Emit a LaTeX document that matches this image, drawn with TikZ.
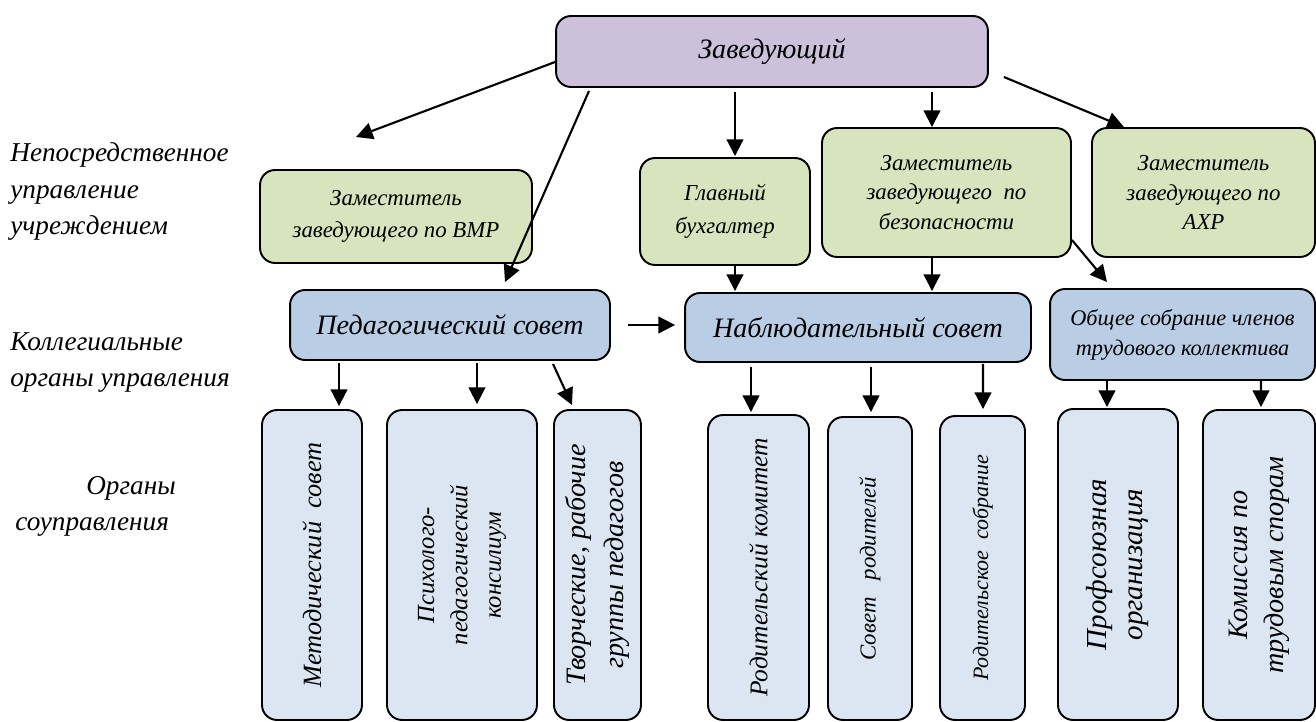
\documentclass[tikz,border=0pt]{standalone}
\usepackage{fontspec}
\setmainfont{Liberation Serif}
\usetikzlibrary{calc, arrows.meta}
\definecolor{chieffill}{HTML}{CCC0DA}
\definecolor{deputyfill}{HTML}{D7E4BD}
\definecolor{councilfill}{HTML}{B9CDE5}
\definecolor{organfill}{HTML}{DCE6F2}
\tikzstyle{box}     = [rectangle, rounded corners=.3cm, draw=black, line width=1.1pt, inner sep=2pt, align=center]
\tikzstyle{chief}   = [box, fill=chieffill, font=\itshape\fontsize{16}{19}\selectfont]
\tikzstyle{deputy}  = [box, fill=deputyfill, font=\itshape\fontsize{13}{18.5}\selectfont]
\tikzstyle{council} = [box, fill=councilfill, font=\itshape\fontsize{16}{19}\selectfont]
\tikzstyle{organ}   = [box, fill=organfill, rotate=90, font=\itshape\fontsize{15}{20}\selectfont]
\tikzstyle{level}   = [anchor=west, align=left, inner sep=0pt, font=\itshape\fontsize{15.5}{20.7}\selectfont]
\tikzstyle{arrow}   = [line width=1.2pt, -{Triangle[length=9.5pt,width=9.5pt]}]

\begin{document}
\begin{tikzpicture}[x=0.02cm, y=-0.02cm]
      \useasboundingbox (0,0) rectangle (1316,722);

      % levels
      \node (lev1) [level] at (10,191.5) {Непосредственное\\управление\\учреждением};
      \node (lev2) [level] at (10,362.5) {Коллегиальные\\органы управления};
      \node (lev3) [level] at (15,506.5) {\hspace*{1.42cm}Органы\\соуправления};

      % head
      \node (zav)  [chief, minimum width=8.64cm, minimum height=1.42cm] at (772,51.5) {Заведующий};

      % deputies
      \node (vmr)  [deputy, minimum width=5.44cm, minimum height=1.86cm] at (396,216.5) {Заместитель\\заведующего по ВМР};
      \node (glav) [deputy, minimum width=3.4cm, minimum height=2.14cm] at (725,211.5) {Главный\\бухгалтер};
      \node (bez)  [deputy, minimum width=4.98cm, minimum height=2.58cm, font=\itshape\fontsize{13}{17}\selectfont] at (946.5,192.5) {Заместитель\\заведующего~ по\\безопасности};
      \node (ahr)  [deputy, minimum width=4.46cm, minimum height=2.58cm, font=\itshape\fontsize{13}{17}\selectfont] at (1203.5,192.5) {Заместитель\\заведующего по\\АХР};

      % councils
      \node (ped)  [council, minimum width=6.4cm, minimum height=1.4cm] at (450,325) {Педагогический совет};
      \node (nab)  [council, minimum width=6.92cm, minimum height=1.38cm] at (858,327.5) {Наблюдательный совет};
      \node (obsh) [council, minimum width=5.3cm, minimum height=1.82cm, font=\itshape\fontsize{12.7}{17}\selectfont] at (1182.5,334.5) {Общее собрание членов\\трудового коллектива};

      % self-government bodies
      \node (met)  [organ, minimum width=6.2cm, minimum height=2cm] at (312,565) {Методический~ совет};
      \node (psi)  [organ, minimum width=6.2cm, minimum height=3cm, font=\itshape\fontsize{14}{19}\selectfont] at (462,565) {Психолого-\\педагогический\\консилиум};
      \node (tvor) [organ, minimum width=6.2cm, minimum height=1.74cm, font=\itshape\fontsize{16}{21.5}\selectfont] at (597.5,565) {Творческие, рабочие\\группы педагогов};
      \node (rkom) [organ, minimum width=6.1cm, minimum height=2.02cm, font=\itshape\fontsize{14.5}{19}\selectfont] at (758.5,567.5) {Родительский комитет};
      \node (srod) [organ, minimum width=6.06cm, minimum height=1.68cm, font=\itshape\fontsize{13}{17}\selectfont] at (870,568.5) {Совет~~ родителей};
      \node (rsob) [organ, minimum width=6.08cm, minimum height=1.7cm, font=\itshape\fontsize{12.5}{17}\selectfont] at (982.5,568) {Родительское~ собрание};
      \node (prof) [organ, minimum width=6.22cm, minimum height=2.4cm, font=\itshape\fontsize{16.5}{20.5}\selectfont] at (1118,564.5) {Профсоюзная\\организация};
      \node (kom)  [organ, minimum width=6.2cm, minimum height=2.24cm, font=\itshape\fontsize{16}{20.5}\selectfont] at (1259,565) {Комиссия по\\трудовым спорам};

      \coordinate (vmrtip) at (356,137);

      \draw [arrow] ($(zav.west)+(0,10.5)$) -- (vmrtip);
      \draw [arrow] ($(zav.south)+(-183,3)$) -- ($(ped.north)+(55,-7)$);
      \draw [arrow] ($(zav.south)+(-37,4)$) -- ($(glav.north)+(10,-1)$);
      \draw [arrow] ($(zav.south)+(160,4)$) -- ($(bez.north)+(-14.5,0)$);
      \draw [arrow] ($(zav.east)+(15,25.5)$) -- ($(ahr.north)+(-79.5,0)$);

      \draw [arrow] ($(glav.south)+(10,0)$) -- ($(nab.north)+(-123,-1)$);
      \draw [arrow] ($(bez.south)+(-14.5,0)$) -- ($(nab.north)+(74,-1)$);
      \draw [arrow] ($(bez.east)+(0,47.5)$) -- ($(obsh.north)+(-75.5,-6)$);
      \draw [arrow] ($(ped.east)+(17,0)$) -- ($(nab.west)+(-9,-2.5)$);

      \draw [arrow] ($(ped.south)+(-111,2)$) -- ($(met.east)+(27,-3)$);
      \draw [arrow] ($(ped.south)+(27,2)$) -- ($(psi.east)+(15,-5)$);
      \draw [arrow] ($(ped.south)+(103,3)$) -- ($(tvor.east)+(-25.5,-4)$);

      \draw [arrow] ($(nab.south)+(-107,4)$) -- ($(rkom.east)+(-7.5,-2)$);
      \draw [arrow] ($(nab.south)+(13,4)$) -- ($(srod.east)+(1,-4)$);
      \draw [arrow] ($(nab.south)+(125,1)$) -- ($(rsob.east)+(0.5,-6)$);

      \draw [arrow] ($(obsh.south)+(-75.5,0)$) -- ($(prof.east)+(-11,-1)$);
      \draw [arrow] ($(obsh.south)+(78.5,0)$) -- ($(kom.east)+(2,-2)$);

    \end{tikzpicture}
\end{document}
